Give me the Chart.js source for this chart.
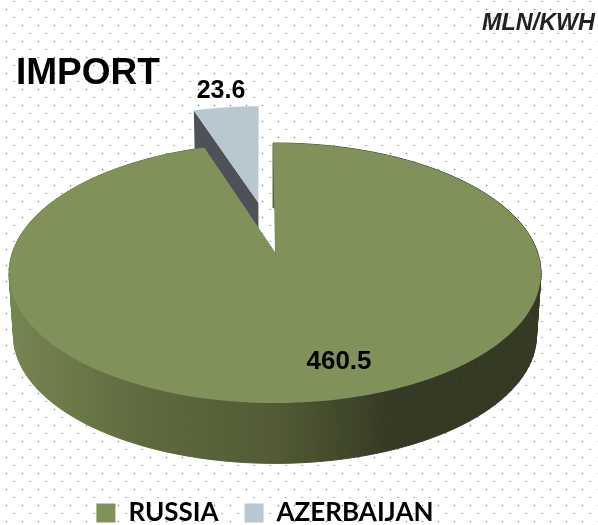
<!DOCTYPE html>
<html>
<head>
<meta charset="utf-8">
<style>
  html, body { margin: 0; padding: 0; background: #fff; overflow: hidden; }
  #wrap { position: relative; width: 598px; height: 525px; }
</style>
<script src="https://cdn.jsdelivr.net/npm/chart.js@4/dist/chart.umd.js"></script>
</head>
<body>
<div id="wrap"><canvas id="importChart"></canvas></div>
<script>
const categories = ['RUSSIA', 'AZERBAIJAN'];
const values = [460.5, 23.6];
const sliceColors = ['#80915a', '#b9c7d1'];
const chartTitle = 'IMPORT';
const unitLabel = 'MLN/KWH';

// perspective of the pie, fitted by eye on the reference
const tilt = -0.1615;
const halfW = 262.5;
const halfH = 126.6;
const depth = 63;
const lowerScale = 0.983;
const pieShiftX = 10; // legend is centred a bit left of the pie

function project(arc, u, v, lower) {
    const den = 1 + tilt * v;
    const s = lower ? lowerScale : 1;
    return {
        x: arc.x + pieShiftX + s * halfW * u / den,
        y: arc.y + (lower ? depth : 0) + s * halfH * v / den
    };
}

class Arc3d extends Chart.ArcElement {
    static id = 'arc3d';

    points(lower) {
        const pts = [];
        const steps = 160;
        const mid = (this.startAngle + this.endAngle) / 2;
        const off = (this.options.offset || 0) / this.outerRadius;
        const ox = Math.cos(mid) * off;
        const oy = Math.sin(mid) * off;
        for (let i = 0; i <= steps; i++) {
            const a = this.startAngle + (this.endAngle - this.startAngle) * i / steps;
            pts.push(project(this, ox + Math.cos(a), oy + Math.sin(a), lower));
        }
        return { rim: pts, apex: project(this, ox, oy, lower) };
    }

    draw(ctx) {
        const top = this.points(false);
        const low = this.points(true);
        ctx.save();

        if (this.options.offset) {
            // exploded slice: only its left cut face can be seen
            ctx.beginPath();
            ctx.moveTo(top.rim[0].x, top.rim[0].y);
            ctx.lineTo(top.apex.x, top.apex.y);
            ctx.lineTo(low.apex.x, low.apex.y);
            ctx.lineTo(low.rim[0].x, low.rim[0].y);
            ctx.closePath();
            ctx.fillStyle = '#4e5157';
            ctx.fill();
        } else {
            const wall = ctx.createLinearGradient(9, 0, 542, 0);
            wall.addColorStop(0, '#76864f');
            wall.addColorStop(0.25, '#5f6a3f');
            wall.addColorStop(0.5, '#525b34');
            wall.addColorStop(0.72, '#343a23');
            wall.addColorStop(1, '#333922');
            ctx.fillStyle = wall;
            ctx.strokeStyle = wall;
            ctx.lineWidth = 1;
            for (let i = 0; i < top.rim.length - 1; i++) {
                ctx.beginPath();
                ctx.moveTo(top.rim[i].x, top.rim[i].y);
                ctx.lineTo(top.rim[i + 1].x, top.rim[i + 1].y);
                ctx.lineTo(low.rim[i + 1].x, low.rim[i + 1].y);
                ctx.lineTo(low.rim[i].x, low.rim[i].y);
                ctx.closePath();
                ctx.fill();
                ctx.stroke();
            }
        }

        ctx.beginPath();
        ctx.moveTo(top.apex.x, top.apex.y);
        top.rim.forEach(p => ctx.lineTo(p.x, p.y));
        ctx.closePath();
        ctx.fillStyle = this.options.backgroundColor;
        ctx.fill();
        ctx.restore();
    }
}

class Pie3dController extends Chart.PieController {
    static id = 'pie3d';
    static defaults = { dataElementType: 'arc3d' };

    // back slice first, the big one covers its foot
    draw() {
        const ctx = this.chart.ctx;
        this.getMeta().data.slice().reverse().forEach(arc => arc.draw(ctx));
    }
}

Chart.register(Arc3d, Pie3dController);

const dottedBackground = {
    id: 'dottedBackground',
    beforeDraw(chart) {
        const tile = document.createElement('canvas');
        tile.width = 16;
        tile.height = 16;
        const t = tile.getContext('2d');
        t.fillStyle = '#fff';
        t.fillRect(0, 0, 16, 16);
        t.fillStyle = '#e2e2e2';
        t.fillRect(5, 9, 3, 1);
        t.fillRect(6, 8, 1, 3);
        t.fillStyle = '#8c8c8c';
        t.fillRect(6, 9, 1, 1);
        t.fillStyle = '#b4b4b4';
        t.fillRect(13, 1, 2, 1);
        const ctx = chart.ctx;
        ctx.save();
        ctx.fillStyle = ctx.createPattern(tile, 'repeat');
        ctx.fillRect(0, 0, chart.width, chart.height);
        ctx.restore();
    }
};

const chartTexts = {
    id: 'chartTexts',
    afterDraw(chart) {
        const ctx = chart.ctx;
        ctx.save();
        ctx.textBaseline = 'alphabetic';
        ctx.fillStyle = '#000';
        ctx.textAlign = 'left';
        ctx.font = 'bold 37px "Liberation Sans"';
        ctx.fillText(chartTitle, 16, 84);
        ctx.fillStyle = '#222';
        ctx.textAlign = 'right';
        ctx.font = 'italic bold 23.4px "Liberation Sans"';
        ctx.fillText(unitLabel, 595, 30);
        ctx.fillStyle = '#000';
        ctx.textAlign = 'center';
        ctx.font = 'bold 25px "Liberation Sans"';
        ctx.fillText(values[1].toFixed(1), 221, 98);
        ctx.font = 'bold 26px "Liberation Sans"';
        ctx.fillText(values[0].toFixed(1), 339, 369);
        ctx.restore();
    }
};

new Chart(document.getElementById('importChart'), {
    type: 'pie3d',
    data: {
        labels: categories,
        datasets: [{
            data: values,
            backgroundColor: sliceColors,
            borderWidth: 0,
            offset: [0, 77],
            rotation: -0.5
        }]
    },
    options: {
        responsive: true,
        maintainAspectRatio: false,
        animation: false,
        layout: { padding: { top: 30, right: 68, bottom: -11, left: 0 } },
        plugins: {
            tooltip: { enabled: false },
            legend: {
                position: 'bottom',
                labels: {
                    boxWidth: 19,
                    boxHeight: 19,
                    padding: 26,
                    color: '#000',
                    font: { family: 'Lato', size: 26, weight: 'bold' }
                }
            }
        }
    },
    plugins: [dottedBackground, chartTexts]
});
</script>
</body>
</html>
